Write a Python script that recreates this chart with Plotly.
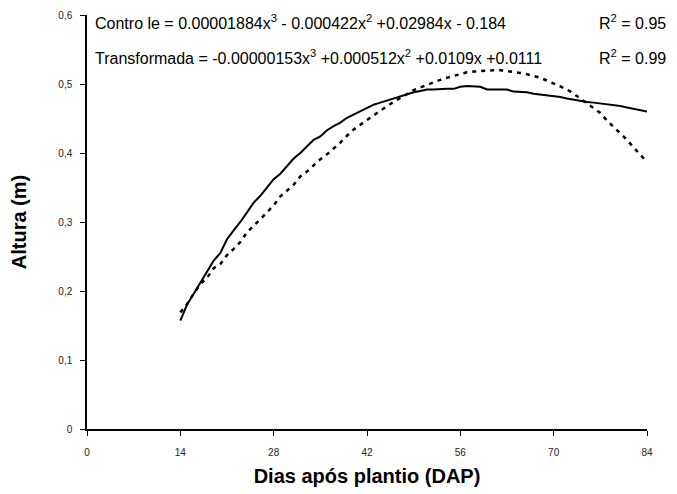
import plotly.graph_objects as go

# ---- data ----
dias = list(range(14, 85))

controle = [0.157, 0.180, 0.196, 0.212, 0.227, 0.244, 0.255, 0.275, 0.288, 0.300,
            0.314, 0.328, 0.338, 0.350, 0.362, 0.370, 0.381, 0.392, 0.400, 0.410,
            0.419, 0.424, 0.433, 0.439, 0.444, 0.451, 0.456, 0.461, 0.466, 0.470,
            0.473, 0.476, 0.479, 0.483, 0.486, 0.488, 0.490, 0.492, 0.492, 0.493,
            0.493, 0.493, 0.496, 0.497, 0.497, 0.496, 0.492, 0.492, 0.492, 0.492,
            0.489, 0.489, 0.488, 0.486, 0.485, 0.483, 0.482, 0.481, 0.479, 0.477,
            0.476, 0.474, 0.473, 0.472, 0.470, 0.469, 0.468, 0.466, 0.464, 0.463,
            0.460]

transformada = [0.169, 0.181, 0.196, 0.210, 0.219, 0.233, 0.239, 0.252, 0.261, 0.271,
                0.285, 0.294, 0.304, 0.314, 0.324, 0.337, 0.345, 0.354, 0.366, 0.373,
                0.382, 0.391, 0.398, 0.406, 0.415, 0.425, 0.434, 0.441, 0.448, 0.455,
                0.462, 0.468, 0.474, 0.480, 0.486, 0.491, 0.495, 0.499, 0.502, 0.506,
                0.509, 0.512, 0.515, 0.517, 0.518, 0.519, 0.520, 0.520, 0.520, 0.519,
                0.518, 0.516, 0.514, 0.512, 0.509, 0.505, 0.501, 0.497, 0.492, 0.486,
                0.479, 0.472, 0.465, 0.458, 0.447, 0.438, 0.429, 0.419, 0.408, 0.397,
                0.387]

x_tickvals = [0, 14, 28, 42, 56, 70, 84]
y_tickvals = [0, 0.1, 0.2, 0.3, 0.4, 0.5, 0.6]
y_ticktext = ["0", "0,1", "0,2", "0,3", "0,4", "0,5", "0,6"]

eq_controle = "Contro le = 0.00001884x<sup>3</sup> - 0.000422x<sup>2</sup> +0.02984x - 0.184"
eq_transf = "Transformada = -0.00000153x<sup>3</sup> +0.000512x<sup>2</sup> +0.0109x +0.0111"
r2_controle = "R<sup>2</sup> = 0.95"
r2_transf = "R<sup>2</sup> = 0.99"

FONT = "Liberation Sans, Arial, sans-serif"

fig = go.Figure()
fig.add_trace(go.Scatter(x=dias, y=controle, mode="lines", name="Controle",
                         line=dict(color="black", width=2)))
fig.add_trace(go.Scatter(x=dias, y=transformada, mode="lines", name="Transformada",
                         line=dict(color="black", width=2.5, dash="4px,5px")))

L, R, T, B = 87, 30, 15, 65
W, H = 677, 494
pw, ph = W - L - R, H - T - B

def px2paper(xp, yp):
    return (xp - L) / pw, (H - B - yp) / ph

annots = [
    (eq_controle, 93, 22, "left"),
    (eq_transf, 93, 57, "left"),
    (r2_controle, 668, 22, "right"),
    (r2_transf, 668, 57, "right"),
]
for txt, xp, yp, anchor in annots:
    ax, ay = px2paper(xp, yp)
    fig.add_annotation(text=txt, x=ax, y=ay, xref="paper", yref="paper",
                       xanchor=anchor, yanchor="middle", showarrow=False,
                       font=dict(family=FONT, size=16, color="black"))

fig.update_layout(
    width=W, height=H,
    margin=dict(l=L, r=R, t=T, b=B),
    paper_bgcolor="white", plot_bgcolor="white",
    showlegend=False,
    font=dict(family=FONT, color="black"),
)
fig.update_xaxes(
    range=[0, 84], tickvals=x_tickvals, showgrid=False, zeroline=False,
    showline=True, linecolor="black", linewidth=1.5, automargin=False,
    ticks="outside", ticklen=5, tickcolor="black", tickwidth=1,
    tickfont=dict(family=FONT, size=10, color="#222"),
    ticklabelstandoff=8,
    title=dict(text="<b>Dias após plantio (DAP)</b>", font=dict(family=FONT, size=20, color="black"), standoff=12),
)
fig.update_yaxes(
    range=[0, 0.6], tickvals=y_tickvals, ticktext=y_ticktext, showgrid=False, zeroline=False,
    showline=True, linecolor="black", linewidth=1.5, automargin=False,
    ticks="outside", ticklen=5, tickcolor="black", tickwidth=1,
    tickfont=dict(family=FONT, size=10, color="#222"),
    ticklabelstandoff=6,
    title=dict(text="<b>Altura (m)</b>", font=dict(family=FONT, size=20, color="black"), standoff=26),
)

fig.write_html("out.html")
